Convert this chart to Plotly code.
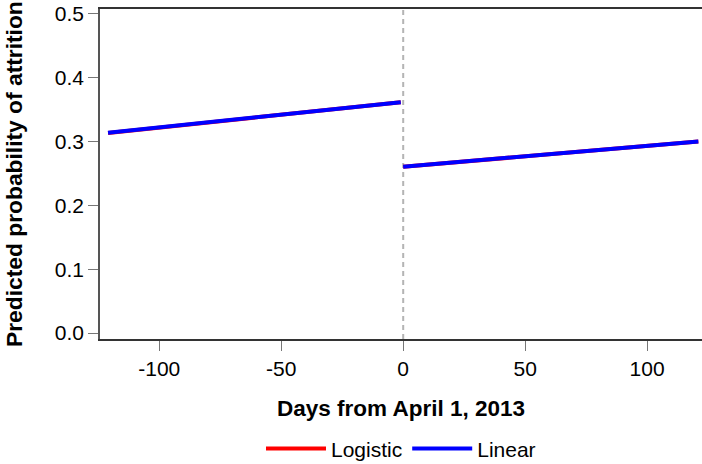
import plotly.graph_objects as go

# Data
days_before = [-121, -1]
days_after = [0, 121]
logistic_before = [0.3135, 0.3618]
logistic_after = [0.2605, 0.3002]
linear_before = [0.3140, 0.3616]
linear_after = [0.2607, 0.3000]
cutoff_day = 0
x_ticks = [-100, -50, 0, 50, 100]
x_tick_labels = ["-100", "-50", "0", "50", "100"]
y_ticks = [0.0, 0.1, 0.2, 0.3, 0.4, 0.5]
y_tick_labels = ["0.0", "0.1", "0.2", "0.3", "0.4", "0.5"]

FONT = "Liberation Sans, Arial, sans-serif"

x_all = days_before + [None] + days_after
fig = go.Figure()
fig.add_trace(go.Scatter(
    x=x_all, y=logistic_before + [None] + logistic_after,
    mode="lines", name="Logistic", line=dict(color="#ff0000", width=4),
    connectgaps=False))
fig.add_trace(go.Scatter(
    x=x_all, y=linear_before + [None] + linear_after,
    mode="lines", name="Linear", line=dict(color="#0000ff", width=4),
    connectgaps=False))

fig.add_shape(type="line", xref="x", yref="paper", x0=cutoff_day, x1=cutoff_day,
              y0=0, y1=1, line=dict(color="#b4b4b4", width=2, dash="5px,4px"), layer="below")

fig.update_layout(
    width=702, height=464,
    margin=dict(l=100, r=0, t=9, b=125, autoexpand=False),
    paper_bgcolor="white", plot_bgcolor="white",
    font=dict(family=FONT, size=21, color="black"),
    showlegend=True,
    legend=dict(orientation="h", x=0.5, xanchor="center", y=-0.333, yanchor="middle",
                font=dict(size=21), itemwidth=60, tracegroupgap=0),
    annotations=[
        dict(text="<b>Days from April 1, 2013</b>", xref="paper", yref="paper",
             x=0.5, y=-0.212, xanchor="center", yanchor="middle", showarrow=False,
             font=dict(size=22.5, family=FONT)),
        dict(text="<b>Predicted probability of attrition</b>", xref="paper", yref="paper",
             x=-0.1429, y=0.5, xanchor="center", yanchor="middle", showarrow=False,
             textangle=-90, font=dict(size=22.8, family=FONT)),
    ],
)
fig.update_xaxes(range=[-124.3, 122.5], tickvals=x_ticks, ticktext=x_tick_labels,
                 ticks="outside", ticklen=10, automargin=False,
                 tickcolor="#777777", showline=True, linecolor="#333333", linewidth=1.5,
                 mirror=True, showgrid=False, zeroline=False)
fig.update_yaxes(range=[-0.0094, 0.5078], tickvals=y_ticks, ticktext=y_tick_labels,
                 ticks="outside", ticklen=10, tickcolor="#777777", showline=True,
                 automargin=False,
                 linecolor="#555555", linewidth=1.5, mirror=False, showgrid=False,
                 zeroline=False)

fig.write_html("out.html", config={"displayModeBar": False},
               post_script="document.body.style.margin='0';document.body.style.overflow='hidden';")
